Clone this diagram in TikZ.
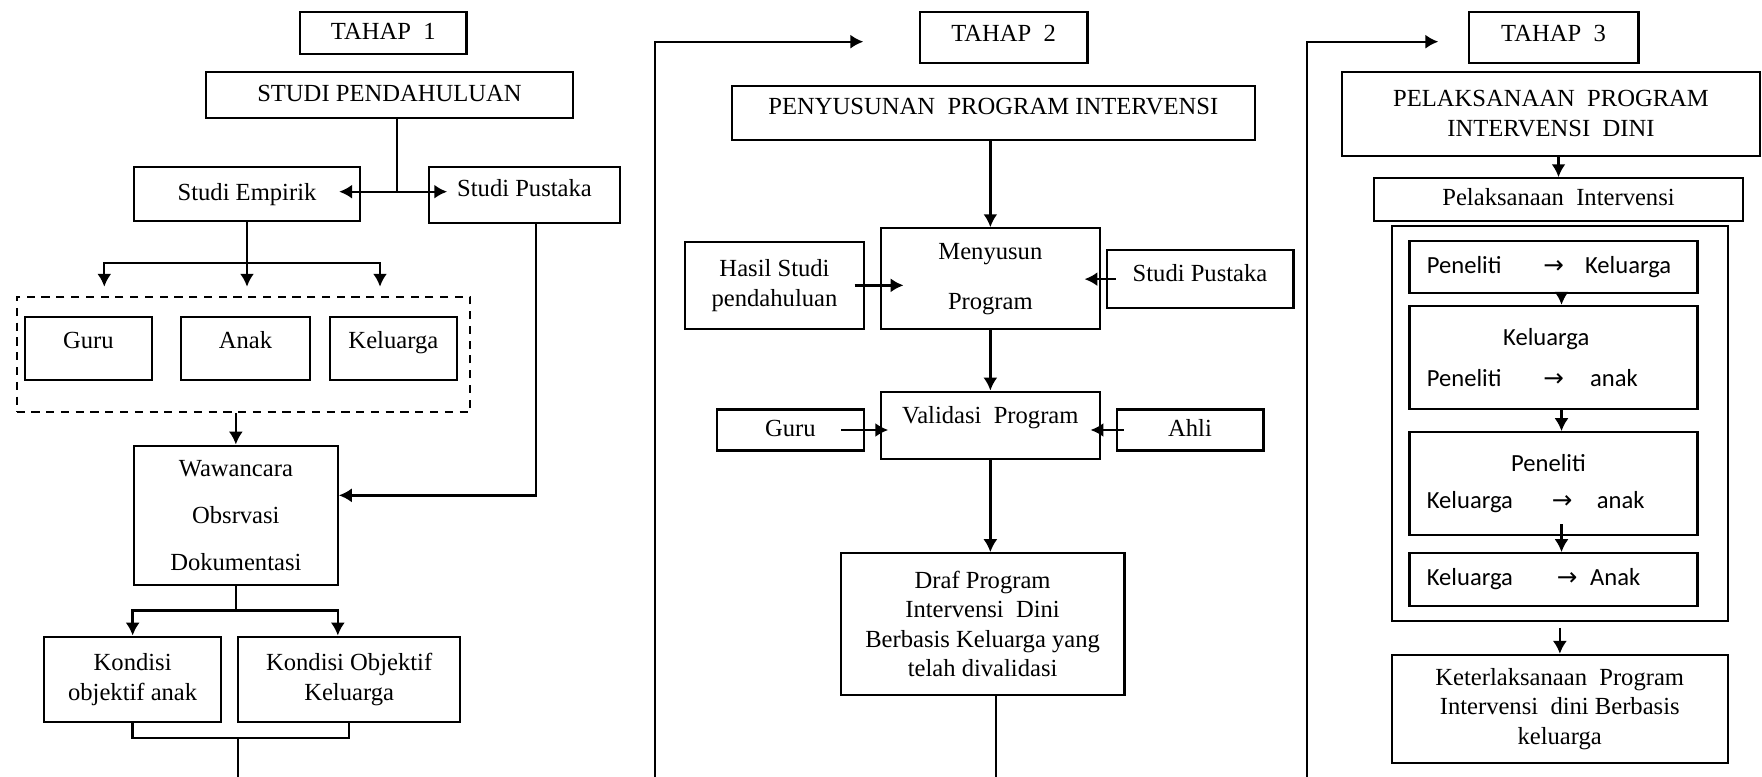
\documentclass[tikz,border=0pt]{standalone}
\usepackage{fontspec}
\setmainfont{Liberation Serif}
\newfontfamily\carlito{Carlito}
\newfontfamily\dejavu{DejaVu Sans}
\usetikzlibrary{arrows.meta}
\newcommand{\kekanan}{{\dejavu\fontsize{10.5}{12}\selectfont →}}
\tikzset{
  kotak/.style={draw, line width=1pt, align=center, inner sep=2pt, font=\fontsize{10.5}{12.6}\selectfont},
  satu/.style={text height=7.4pt, text depth=#1}, satu/.default=2.1pt,
  kotakdalam/.style={kotak, font=\carlito\fontsize{10.5}{12.6}\selectfont, align=left, text width=3.8cm, inner xsep=0.261cm},
  garis/.style={line width=1pt},
  panah/.style={line width=1pt, -{Latex[length=5.5pt,width=6pt]}},
  panah2/.style={line width=1pt, {Latex[length=5.5pt,width=6pt]}-{Latex[length=5.5pt,width=6pt]}}
}
\begin{document}
\begin{tikzpicture}[x=0.015cm,y=-0.015cm]
\useasboundingbox (0,0) rectangle (1762,777);

\node[kotak,satu,minimum width=2.5cm,minimum height=0.63cm] (tahap1) at (383.3,33.3) {TAHAP\ \ 1};
\node[kotak,satu,minimum width=5.514cm,minimum height=0.681cm] (studi) at (389.5,95) {STUDI PENDAHULUAN};
\node[kotak,satu,minimum width=3.39cm,minimum height=0.815cm] (empirik) at (247,193.85) {Studi Empirik};
\node[kotak,satu=5.7pt,minimum width=2.865cm,minimum height=0.84cm] (pustaka) at (524.5,194.7) {Studi Pustaka};
\node[kotak,dash pattern=on 3.5pt off 2.8pt,minimum width=6.8cm,minimum height=1.73cm] (kelompok) at (243.35,354.35) {};
\node[kotak,satu=7.3pt,minimum width=1.9cm,minimum height=0.94cm] (guru) at (88.35,348.65) {Guru};
\node[kotak,satu=7.3pt,minimum width=1.935cm,minimum height=0.94cm] (anak) at (245.5,348.65) {Anak};
\node[kotak,satu=7.3pt,minimum width=1.9cm,minimum height=0.94cm] (keluarga) at (393.35,348.65) {Keluarga};
\node[kotak,minimum width=3.055cm,minimum height=2.09cm] (wawancara) at (235.85,515.35) {Wawancara\\[7.5pt]Obsrvasi\\[7.5pt]Dokumentasi};
\node[kotak,minimum width=2.65cm,minimum height=1.284cm] (kondisi1) at (132.65,679.5) {Kondisi\\objektif anak};
\node[kotak,minimum width=3.325cm,minimum height=1.284cm] (kondisi2) at (349.15,679.5) {Kondisi Objektif\\Keluarga};

\coordinate (cabang) at (396.7,191.7);
\draw[garis] (studi.south -| cabang) -- (cabang);
\draw[panah2,shorten <=-3.3mm,shorten >=-2.9mm] (empirik.east |- cabang) -- (pustaka.west |- cabang);
\coordinate (a1) at (104.3,286.7);
\coordinate (a3) at (380,286.7);
\draw[garis] (empirik.south) -- ++(0,40.7) coordinate (bagi);
\draw[panah] (bagi) -- (bagi |- a1);
\draw[panah] (bagi) -| (a1);
\draw[panah] (bagi) -| (a3);
\draw[panah] (wawancara.north |- kelompok.south) -- (wawancara.north);
\draw[panah] ([xshift=1.7mm]pustaka.south) |- ([yshift=3mm]wawancara.east);
\draw[garis] (wawancara.south) -- ++(0,24.3) coordinate (bagi2);
\draw[panah] (bagi2) -| (kondisi1.north);
\draw[panah] (bagi2) -| ([xshift=-1.7mm]kondisi2.north);
\coordinate (gabung1) at (238.3,737.7);
\coordinate (ekor1) at (238.3,790);
\draw[garis] (kondisi1.south) |- (gabung1) -| (kondisi2.south);
\draw[garis] (gabung1) -- (ekor1);

\coordinate (kiri2) at (655,790);
\coordinate (ujung2) at (863.3,41.7);
\draw[panah] (kiri2) |- (ujung2);
\node[kotak,satu=4.3pt,minimum width=2.51cm,minimum height=0.765cm] (tahap2) at (1003.65,37.8) {TAHAP\ \ 2};
\node[kotak,satu=5.8pt,minimum width=7.85cm,minimum height=0.81cm] (penyusunan) at (993.35,113) {PENYUSUNAN\ \ PROGRAM INTERVENSI};
\node[kotak,minimum width=3.29cm,minimum height=1.51cm] (menyusun) at (990.35,278.65) {Menyusun\\[8.7pt]Program};
\node[kotak,minimum width=2.685cm,minimum height=1.31cm] (hasil) at (774.5,285.35) {Hasil Studi\\pendahuluan};
\node[kotak,satu=5.7pt,minimum width=2.8cm,minimum height=0.875cm] (pustaka2) at (1200,279.15) {Studi Pustaka};
\node[kotak,satu=9.4pt,minimum width=3.29cm,minimum height=1.014cm] (validasi) at (990.35,425.5) {Validasi\ \ Program};
\node[kotak,satu,minimum width=2.21cm,minimum height=0.62cm] (guru2) at (790.35,430) {Guru};
\node[kotak,satu,minimum width=2.2cm,minimum height=0.62cm] (ahli) at (1190,430) {Ahli};
\node[kotak,minimum width=4.257cm,minimum height=2.126cm] (draf) at (982.6,624.15) {Draf Program\\Intervensi\ \ Dini\\Berbasis Keluarga yang\\telah divalidasi};

\draw[panah] (menyusun.north |- penyusunan.south) -- (menyusun.north);
\draw[panah,shorten <=-1.6mm,shorten >=-3.6mm] (hasil.east) -- (menyusun.west |- hasil.east);
\draw[panah,shorten <=-1.5mm,shorten >=-2.5mm] (pustaka2.west) -- (menyusun.east |- pustaka2.west);
\draw[panah] (menyusun.south) -- (validasi.north);
\draw[panah,shorten <=-3.6mm,shorten >=-1.3mm] (guru2.east) -- (validasi.west |- guru2.east);
\draw[panah,shorten <=-1.25mm,shorten >=-1.6mm] (ahli.west) -- (validasi.east |- ahli.west);
\draw[panah] (validasi.south) -- (validasi.south |- draf.north);
\coordinate (ekor2) at (995.7,790);
\draw[garis] (ekor2 |- draf.south) -- (ekor2);

\coordinate (kiri3) at (1307.3,790);
\coordinate (ujung3) at (1438.3,41.7);
\draw[panah] (kiri3) |- (ujung3);
\node[kotak,satu=4.3pt,minimum width=2.544cm,minimum height=0.774cm] (tahap3) at (1553.5,37.5) {TAHAP\ \ 3};
\node[kotak,minimum width=6.27cm,minimum height=1.26cm] (pelaksanaan) at (1551,113.7) {PELAKSANAAN\ \ PROGRAM\\INTERVENSI\ \ DINI};
\node[kotak,satu,minimum width=5.526cm,minimum height=0.64cm] (intervensi) at (1558.5,199.65) {Pelaksanaan\ \ Intervensi};
\node[kotak,minimum width=5.036cm,minimum height=5.92cm] (luar) at (1559.85,423.35) {};
\node[kotakdalam,minimum height=0.789cm] (dalam1) at (1553.5,267) {\makebox[1.749cm][l]{Peneliti}\makebox[0.625cm][l]{\kekanan}Keluarga};
\node[kotakdalam,minimum height=1.55cm] (dalam2) at (1553.5,357.65) {\hspace*{1.145cm}Keluarga\\[4.8pt]\makebox[1.749cm][l]{Peneliti}\makebox[0.7cm][l]{\kekanan}anak};
\node[kotakdalam,minimum height=1.545cm] (dalam3) at (1553.5,483.8) {\hspace*{1.264cm}Peneliti\\[3.3pt]\makebox[1.875cm][l]{Keluarga}\makebox[0.675cm][l]{\kekanan}anak};
\node[kotakdalam,minimum height=0.786cm] (dalam4) at (1553.5,579.5) {\makebox[1.95cm][l]{Keluarga}\makebox[0.5cm][l]{\kekanan}Anak};
\node[kotak,minimum width=5.04cm,minimum height=1.616cm] (ket) at (1559.7,708.85) {Keterlaksanaan\ \ Program\\Intervensi\ \ dini Berbasis\\keluarga};

\draw[panah] (intervensi.north |- pelaksanaan.south) -- (intervensi.north);
\draw[panah] ([xshift=1.2mm]dalam1.south) -- ([xshift=1.2mm]dalam2.north);
\draw[panah] ([xshift=1.2mm]dalam2.south) -- ([xshift=1.2mm]dalam3.north);
\draw[panah,shorten <=-1.85mm] ([xshift=1.2mm]dalam3.south) -- ([xshift=1.2mm]dalam4.north);
\draw[panah,shorten <=0.9mm] (luar.south) -- (luar.south |- ket.north);
\end{tikzpicture}
\end{document}
